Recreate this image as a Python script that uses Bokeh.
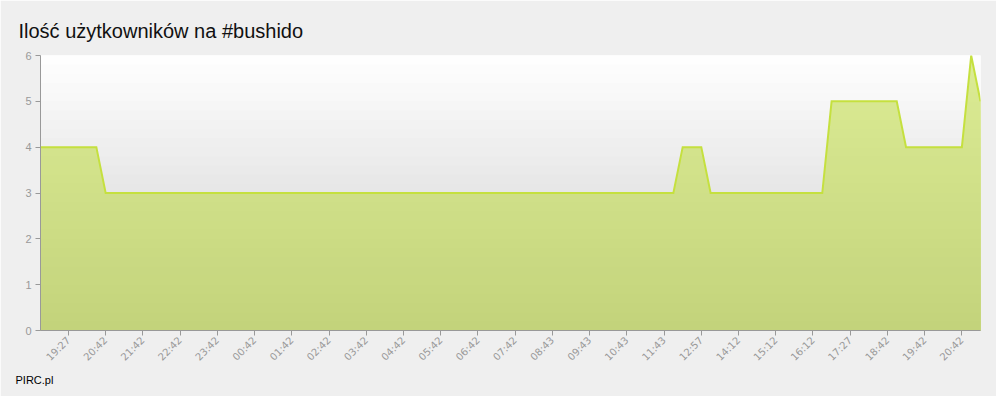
import math
from bokeh.plotting import figure
from bokeh.models import Range1d, FixedTicker, BoxAnnotation, Title
from bokeh.embed import file_html
from bokeh.resources import INLINE

title_text = "Ilość użytkowników na #bushido"
footer_text = "PIRC.pl"

users = [
    4, 4, 4, 4, 4, 4, 4,
    3, 3, 3, 3, 3, 3, 3, 3, 3, 3,
    3, 3, 3, 3, 3, 3, 3, 3, 3, 3,
    3, 3, 3, 3, 3, 3, 3, 3, 3, 3,
    3, 3, 3, 3, 3, 3, 3, 3, 3, 3,
    3, 3, 3, 3, 3, 3, 3, 3, 3, 3,
    3, 3, 3, 3, 3, 3, 3, 3, 3, 3,
    3, 3,
    4, 4, 4,
    3, 3, 3, 3, 3, 3, 3, 3, 3, 3, 3, 3, 3,
    5, 5, 5, 5, 5, 5, 5, 5,
    4, 4, 4, 4, 4, 4, 4,
    6,
    5,
]

tick_labels = ["19:27", "20:42", "21:42", "22:42", "23:42", "00:42", "01:42",
               "02:42", "03:42", "04:42", "05:42", "06:42", "07:42", "08:43",
               "09:43", "10:43", "11:43", "12:57", "14:12", "15:12", "16:12",
               "17:27", "18:42", "19:42", "20:42"]

y_ticks = [0, 1, 2, 3, 4, 5, 6]

xs = list(range(len(users)))
tick_pos = [3 + 4 * k for k in range(len(tick_labels))]

W, H = 996, 396
p = figure(width=W, height=H, title=None,
           x_range=Range1d(0, len(users) - 1), y_range=Range1d(0, 6),
           output_backend="svg", toolbar_location=None,
           min_border_left=40, min_border_right=W - 980,
           min_border_top=55, min_border_bottom=H - 330)
p.border_fill_color = "#efefef"
p.background_fill_color = "#ffffff"
p.outline_line_color = None
p.grid.visible = False


def lerp(c0, c1, t):
    t = max(0.0, min(1.0, t))
    return "#%02x%02x%02x" % tuple(int(round(a + (b - a) * t)) for a, b in zip(c0, c1))


# plot background gradient (white at top -> grey lower down)
bg_top = (255, 255, 255)
bg_bot = (205, 205, 205)
step = 0.2
n = int(round(6 / step))
for i in range(n):
    b = i * step
    col = lerp(bg_bot, bg_top, (b + step / 2) / 6)
    p.add_layout(BoxAnnotation(bottom=b, top=b + step + 0.02, fill_color=col,
                               fill_alpha=1, line_color=None, level="underlay"))


def clip_top(xv, yv, cap):
    ox, oy = [xv[0]], [min(yv[0], cap)]
    for i in range(len(xv) - 1):
        x0, y0, x1, y1 = xv[i], yv[i], xv[i + 1], yv[i + 1]
        if (y0 - cap) * (y1 - cap) < 0:
            t = (cap - y0) / (y1 - y0)
            ox.append(x0 + t * (x1 - x0))
            oy.append(cap)
        ox.append(x1)
        oy.append(min(y1, cap))
    return ox, oy


# area fill gradient drawn as nested clipped areas
a_top = (220, 236, 149)
a_bot = (195, 211, 123)
for i in range(n, 0, -1):
    cap = i * step
    cx, cy = clip_top(xs, users, cap)
    col = lerp(a_bot, a_top, (cap - step / 2) / 6)
    p.varea(x=cx, y1=[0] * len(cx), y2=cy, fill_color=col, fill_alpha=1)

p.line(xs, users, line_color="#c5e03f", line_width=2, line_join="miter")

# axes
ax = p.xaxis[0]
ax.ticker = FixedTicker(ticks=tick_pos)
ax.major_label_overrides = {t: l for t, l in zip(tick_pos, tick_labels)}
ax.major_label_orientation = math.pi / 4
ax.major_label_text_font = "DejaVu Sans"
ax.major_label_text_font_size = "10px"
ax.major_label_text_color = "#999999"
ax.axis_line_color = "#999999"
ax.major_tick_line_color = "#999999"
ax.major_tick_out = 5
ax.major_tick_in = 0
ax.minor_tick_line_color = None
ax.major_label_standoff = 3

ay = p.yaxis[0]
ay.ticker = FixedTicker(ticks=y_ticks)
ay.major_label_text_font = "Liberation Sans"
ay.major_label_text_font_size = "11px"
ay.major_label_text_color = "#999999"
ay.axis_line_color = "#999999"
ay.major_tick_line_color = "#999999"
ay.major_tick_out = 5
ay.major_tick_in = 0
ay.minor_tick_line_color = None
ay.major_label_standoff = 4

p.add_layout(Title(text=title_text, align="left", offset=-22, standoff=27,
                   text_font="Liberation Sans", text_font_size="20px",
                   text_font_style="normal", text_color="#111111"), "above")
p.add_layout(Title(text=footer_text, align="left", offset=-25, standoff=4,
                   text_font="Liberation Sans", text_font_size="11px",
                   text_font_style="normal", text_color="#000000"), "below")

open("out.html", "w").write(file_html(p, INLINE))
